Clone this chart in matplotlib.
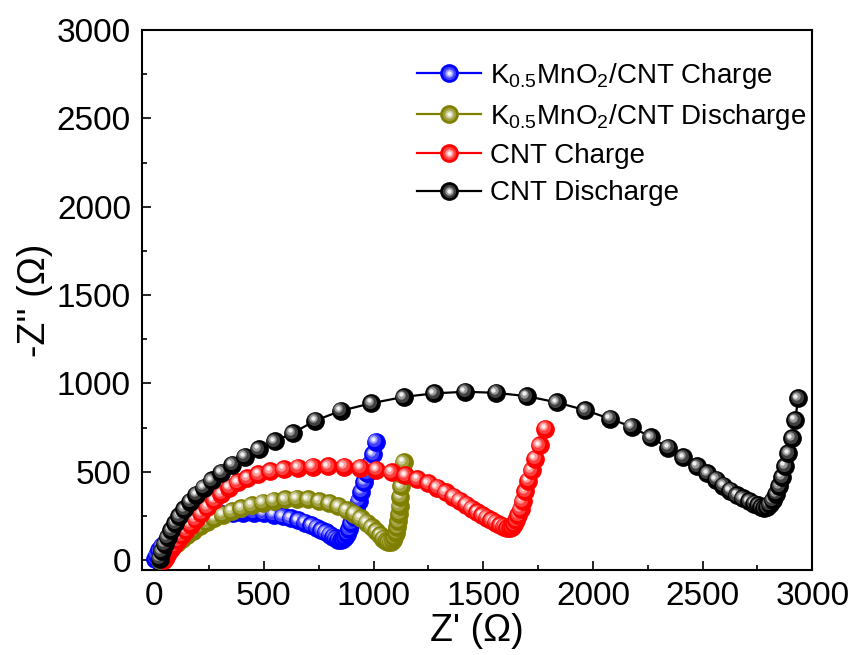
import matplotlib
matplotlib.use('Agg')
import matplotlib.pyplot as plt
import matplotlib.transforms as mtransforms
from matplotlib.lines import Line2D
from matplotlib.legend_handler import HandlerTuple
from matplotlib.ticker import MultipleLocator
from matplotlib.colors import to_rgb
import numpy as np

# Nyquist data (Z' and -Z'' in ohm)
blue_zr = [5, 12, 22, 35, 52, 72, 95, 122, 152, 186, 224, 266, 311, 358, 406, 454,
           500, 544, 585, 622, 656, 687, 715, 740, 762, 782, 800, 815, 828, 840, 852,
           862, 872, 881, 890, 899, 909, 920, 932, 945, 958, 971, 984, 998, 1010]
blue_zi = [8, 30, 55, 80, 105, 130, 155, 178, 200, 220, 237, 251, 261, 267, 269, 268,
           264, 257, 248, 237, 225, 212, 198, 184, 170, 157, 145, 133, 124, 116, 113,
           118, 130, 150, 176, 208, 246, 290, 337, 388, 440, 493, 545, 598, 670]

olive_zr = [28, 38, 50, 65, 82, 102, 125, 150, 178, 208, 240, 275, 313, 354, 398, 445,
            494, 545, 597, 650, 702, 752, 798, 840, 878, 912, 942, 968, 991, 1011, 1029,
            1044, 1057, 1068, 1078, 1087, 1095, 1102, 1108, 1112, 1116, 1119, 1122, 1125,
            1129, 1137]
olive_zi = [3, 20, 38, 57, 77, 98, 120, 143, 167, 191, 214, 236, 257, 277, 295, 311,
            325, 336, 344, 347, 344, 335, 321, 304, 284, 262, 238, 213, 188, 163, 141,
            122, 108, 100, 102, 112, 130, 155, 185, 220, 262, 308, 360, 418, 485, 555]

red_zr = [45, 55, 65, 78, 92, 108, 125, 145, 167, 190, 215, 243, 273, 306, 342, 381,
          425, 475, 530, 590, 655, 722, 793, 866, 940, 1013, 1082, 1145, 1200, 1248,
          1290, 1328, 1362, 1393, 1421, 1447, 1471, 1494, 1516, 1537, 1557, 1576, 1594,
          1610, 1622, 1633, 1642, 1651, 1660, 1670, 1680, 1692, 1705, 1720, 1737, 1757,
          1783]
red_zi = [3, 20, 40, 62, 86, 112, 140, 170, 200, 232, 265, 300, 338, 375, 410, 440,
          465, 487, 503, 516, 524, 529, 531, 529, 523, 513, 499, 480, 458, 434,
          410, 385, 360, 336, 313, 292, 273, 256, 240, 225, 211, 199, 189,
          182, 180, 188, 203, 225, 255, 290, 335, 390, 450, 510, 575, 650,
          745]

black_zr = [25, 35, 48, 62, 78, 95, 115, 138, 163, 192, 225, 262, 305, 355, 412, 477,
            550, 632, 735, 850, 990, 1138, 1276, 1418, 1558, 1698, 1835, 1964, 2078,
            2177, 2264, 2344, 2412, 2474, 2522, 2562, 2595, 2625, 2656, 2683, 2711,
            2735, 2752, 2768, 2780, 2793, 2805, 2820, 2835, 2850, 2862, 2876, 2891,
            2907, 2922, 2935]
black_zi = [8, 50, 90, 130, 170, 210, 250, 290, 330, 370, 410, 452, 495, 540, 585, 628,
            672, 720, 790, 845, 888, 924, 944, 953, 947, 928, 893, 849, 800,
            755, 695, 636, 581, 532, 491, 455, 422, 393, 368, 349, 333,
            320, 310, 300, 295, 300, 315, 340, 375, 420, 470, 532, 604,
            689, 792, 915]

labels = [r'K$_{0.5}$MnO$_2$/CNT Charge', r'K$_{0.5}$MnO$_2$/CNT Discharge',
          'CNT Charge', 'CNT Discharge']
colors = ['#0000ff', '#808000', '#ff0000', '#000000']

plt.rcParams['font.family'] = ['Liberation Sans', 'DejaVu Sans']
plt.rcParams['mathtext.default'] = 'regular'

fig = plt.figure(figsize=(8.56, 6.55), dpi=100)
ax = fig.add_axes([0.166, 0.130, 0.783, 0.824])
ax.set_xlim(-55, 3000)
ax.set_ylim(-55, 3000)


def mix(c, f):
    return tuple(np.array(to_rgb(c)) * (1 - f) + f)


# shaded ball: (markersize, white fraction, offset in points toward upper left)
layers = [(13.5, 0.0, 0.0), (9.5, 0.25, 1.0), (6, 0.6, 1.7), (3.2, 0.93, 2.0)]
shifts = [ax.transData + mtransforms.ScaledTranslation(-d / 72, d / 72, fig.dpi_scale_trans)
          for _, _, d in layers]


def draw_series(x, y, color, z):
    ax.plot(x, y, '-', color=color, lw=1.6, zorder=z)
    for xi, yi in zip(x, y):
        for (ms, f, d), tr in zip(layers, shifts):
            ax.plot([xi], [yi], 'o', ms=ms, color=mix(color, f), mew=0,
                    transform=tr, zorder=z)


series = [(blue_zr, blue_zi), (olive_zr, olive_zi), (red_zr, red_zi), (black_zr, black_zi)]
for k, ((x, y), c) in enumerate(zip(series, colors)):
    draw_series(x, y, c, 3 + k)

handles = []
for c in colors:
    h = [Line2D([], [], color=c, lw=1.6, marker='o', ms=13.5, mew=0)]
    for ms, f, d in layers[1:]:
        h.append(Line2D([], [], ls='', marker='o', ms=ms, color=mix(c, f), mew=0))
    handles.append(tuple(h))

ax.legend(handles, labels, handler_map={tuple: HandlerTuple(ndivide=1)},
          loc='upper left', bbox_to_anchor=(0.41, 0.943), frameon=False,
          fontsize=20, handlelength=2.3, handletextpad=0.32, labelspacing=0.4,
          borderpad=0, borderaxespad=0)

ax.xaxis.set_major_locator(MultipleLocator(500))
ax.yaxis.set_major_locator(MultipleLocator(500))
ax.xaxis.set_minor_locator(MultipleLocator(250))
ax.yaxis.set_minor_locator(MultipleLocator(250))
ax.tick_params(which='both', direction='in', top=False, right=False, width=1.2)
ax.tick_params(which='major', length=6.5, labelsize=24, pad=8)
ax.tick_params(which='minor', length=3.5)
for s in ax.spines.values():
    s.set_linewidth(1.5)

ax.set_xlabel("Z' (\u03a9)", fontsize=27, labelpad=1)
ax.set_ylabel("-Z'' (\u03a9)", fontsize=27, labelpad=3)

fig.savefig('out.png', dpi=100)
